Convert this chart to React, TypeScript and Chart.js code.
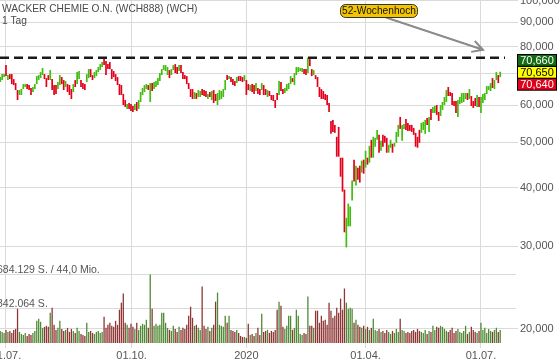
import React, { useEffect, useRef } from 'react';
import { Chart, registerables } from 'chart.js';

Chart.register(...registerables);

// ---- data (EUR prices, daily bars 26.06.2019 - 13.07.2020) ----
const high: number[] = [
  68.84, 69.86, 69.86, 73.01, 69.52, 69.86, 69.86, 68.17, 66.85, 64.60,
  64.60, 64.92, 66.52, 66.52, 66.52, 66.20, 65.24, 65.56, 66.52, 69.18,
  69.52, 70.55, 71.95, 69.86, 68.51, 69.52, 71.25, 68.17, 66.20, 66.20,
  67.18, 69.52, 68.84, 67.84, 67.51, 66.52, 66.20, 64.92, 66.52, 67.84,
  70.55, 70.90, 67.84, 66.85, 66.52, 69.86, 71.60, 71.60, 69.52, 70.55,
  71.25, 72.30, 73.37, 74.10, 75.20, 74.46, 73.37, 74.10, 71.60, 70.90,
  69.86, 68.84, 66.52, 66.20, 63.35, 61.52, 60.33, 60.62, 60.33, 59.74,
  60.33, 60.92, 61.52, 63.97, 65.24, 66.20, 66.52, 66.20, 66.85, 66.85,
  67.18, 67.51, 68.51, 70.21, 71.60, 73.01, 73.01,
  72.30, 71.25, 71.60, 73.01, 73.37, 72.30, 73.01, 73.01, 70.55, 69.52,
  69.18, 66.85, 64.92, 64.92, 63.97, 63.66, 64.60, 64.29, 64.92, 64.60,
  64.29, 63.35, 63.97, 64.29, 64.60, 63.35, 63.66, 64.60, 64.29, 64.92,
  67.84, 69.52, 69.18, 68.84, 68.17, 67.51, 68.84, 69.18, 69.18, 68.84,
  69.52, 67.84, 66.52, 66.20, 66.52, 66.20, 66.85, 65.24, 64.92, 66.85,
  66.20, 64.92, 64.60, 64.29, 63.04, 63.04, 61.52, 63.66, 67.51, 67.18,
  64.92, 65.24, 66.52, 66.85, 69.18, 68.51, 70.21, 72.30, 72.30, 71.95,
  71.95, 71.60, 71.60, 75.70, 75.20, 71.60, 71.25, 69.52, 68.84, 65.56,
  64.92, 64.29, 63.35, 63.04, 60.62,
  55.52, 55.79, 54.44, 51.35, 53.91, 46.35, 46.35, 39.63, 34.51, 37.01,
  36.48, 41.42, 45.90, 44.58, 44.14, 44.58, 45.68, 45.90, 47.96, 46.35,
  49.15, 50.60, 51.35, 51.10, 53.13, 51.85, 50.36, 51.85, 51.60, 51.10,
  49.39, 50.60, 49.63, 49.87, 52.61, 54.44, 56.61, 54.44, 54.71, 56.06,
  54.98, 54.44, 54.44, 53.65, 52.36, 51.35,
  53.13, 54.98, 55.25, 55.79, 56.33, 56.61, 58.87, 59.45, 59.74, 60.03,
  58.01, 60.03, 60.92, 62.43, 64.60, 65.56, 63.97, 63.66, 61.22, 61.22,
  61.52, 62.43, 63.66, 63.66, 63.66, 63.66, 64.92, 62.73, 61.22, 62.12,
  63.04, 62.43, 62.43, 63.35, 63.66, 65.88, 65.88, 66.85, 68.51, 67.84,
  70.55, 69.52, 70.66,
];

const low: number[] = [
  67.18, 67.84, 68.84, 69.18, 67.84, 68.17, 66.52, 66.20, 64.60, 61.52,
  63.04, 63.04, 64.92, 65.56, 64.92, 64.60, 63.04, 63.97, 64.92, 66.52,
  67.84, 68.51, 69.52, 68.17, 65.56, 67.84, 67.84, 64.60, 63.04, 63.35,
  64.92, 66.20, 66.52, 64.60, 65.56, 63.97, 63.04, 61.82, 63.97, 65.56,
  66.52, 68.17, 65.56, 64.92, 64.60, 67.18, 68.51, 68.84, 67.84, 68.51,
  69.18, 70.55, 71.25, 72.30, 73.01, 69.52, 71.60, 71.60, 68.17, 68.84,
  67.51, 66.20, 63.04, 63.04, 60.03, 59.45, 58.87, 58.87, 58.30, 58.01,
  58.58, 58.30, 58.87, 60.92, 63.04, 63.97, 64.92, 64.60, 60.92, 64.29,
  64.92, 65.56, 66.20, 67.51, 69.52, 71.25, 70.90,
  69.52, 68.51, 69.52, 71.25, 70.21, 69.86, 70.90, 70.21, 68.17, 68.17,
  66.52, 64.92, 62.43, 61.82, 61.82, 61.82, 62.43, 62.43, 63.04, 62.73,
  62.43, 61.82, 62.43, 61.52, 60.62, 61.22, 60.03, 61.52, 61.82, 62.43,
  64.60, 67.84, 68.17, 67.18, 66.20, 65.88, 66.85, 67.51, 67.51, 67.18,
  67.51, 63.04, 64.60, 64.29, 63.97, 63.35, 64.29, 63.35, 63.04, 64.60,
  63.04, 63.04, 62.43, 62.73, 61.52, 61.22, 59.16, 61.52, 63.04, 64.29,
  63.35, 63.66, 64.29, 64.92, 66.52, 67.18, 66.20, 69.52, 70.55, 70.90,
  70.55, 69.86, 69.52, 70.21, 72.66, 69.18, 69.52, 68.17, 65.56, 62.43,
  61.82, 61.82, 61.52, 60.03, 58.01,
  52.10, 52.61, 52.36, 46.58, 46.58, 42.23, 39.24, 32.14, 29.85, 33.10,
  33.10, 37.56, 41.22, 40.42, 41.62, 41.02, 43.07, 42.86, 44.14, 44.80,
  45.23, 46.35, 46.35, 48.91, 50.60, 47.50, 47.96, 48.91, 49.87, 47.50,
  47.50, 48.67, 47.50, 48.91, 49.87, 51.35, 53.39, 50.36, 53.39, 53.13,
  52.87, 52.87, 52.61, 51.85, 48.91, 48.67,
  49.87, 52.36, 53.13, 52.10, 54.44, 52.61, 55.79, 57.73, 57.73, 57.17,
  55.52, 56.89, 58.58, 60.03, 60.92, 62.73, 62.73, 60.03, 59.74, 57.73,
  56.61, 60.33, 60.62, 60.92, 61.82, 61.52, 61.82, 59.74, 59.16, 59.74,
  59.45, 59.45, 57.73, 60.62, 61.52, 63.35, 64.60, 64.29, 65.24, 64.92,
  67.84, 66.85, 68.84,
];

// u = rising bar (green), d = falling bar (red)
const direction: string =
  'uuududdddd' + 'uuuuddduuu' + 'uuuddduddd' + 'uuddudddud' + 'uuddduuddu' +
  'uuuudddddd' + 'dddddduddd' + 'uduuuuudud' + 'uuuuuuu' +
  'uduudduddd' + 'dddduduudd' + 'dududduuuu' + 'ududdduddd' + 'uddudduddu' +
  'ddudddddud' + 'duuuuduuuu' + 'uddudduddd' + 'ddddd' +
  'dddddddduu' + 'uududdudud' + 'uduuududdd' + 'uuduuuduud' + 'dddddd' +
  'duuududuud' + 'duuuuddddd' + 'uuuuududdd' + 'uduuuuuudu' + 'udu';

// volume in thousands of shares
const volumeK: number[] = [
  120, 110, 100, 130, 110, 120, 100, 130, 140, 340,
  110, 90, 80, 100, 70, 90, 80, 100, 120, 220,
  240, 210, 150, 160, 170, 160, 300, 350, 180, 130,
  150, 220, 140, 120, 130, 150, 110, 140, 120, 100,
  150, 120, 90, 80, 70, 200, 110, 120, 100, 90,
  110, 120, 100, 110, 260, 150, 180, 200, 170, 160,
  220, 180, 330, 400, 490, 200, 180, 150, 190, 160,
  140, 200, 130, 170, 190, 180, 230, 150, 680, 340,
  170, 190, 170, 180, 300, 300, 200,
  150, 130, 120, 170, 140, 110, 160, 130, 150, 140,
  180, 270, 360, 250, 170, 180, 150, 130, 560, 170,
  140, 160, 120, 150, 180, 410, 500, 180, 170, 160,
  270, 200, 270, 130, 120, 110, 130, 100, 70, 60,
  60, 50, 190, 80, 90, 70, 100, 150, 80, 290,
  110, 120, 130, 100, 120, 110, 130, 330, 410, 370,
  160, 140, 170, 270, 270, 130, 150, 330, 270, 90,
  80, 100, 90, 460, 170, 170, 150, 320, 320, 200,
  270, 220, 230, 180, 400,
  320, 250, 270, 350, 300, 440, 330, 540, 400, 340,
  350, 340, 200, 230, 180, 160, 150, 170, 140, 160,
  130, 150, 240, 130, 120, 140, 110, 120, 100, 130,
  110, 90, 120, 100, 140, 110, 240, 130, 120, 100,
  110, 100, 120, 130, 110, 140,
  120, 110, 100, 130, 90, 120, 110, 170, 130, 160,
  150, 170, 160, 140, 120, 110, 130, 150, 100, 120,
  140, 110, 100, 120, 170, 90, 110, 160, 130, 110,
  100, 120, 200, 130, 150, 100, 140, 120, 110, 130,
  150, 110, 130,
];

const xTickPos: number[] = [3, 68.3, 128, 190, 250];
const xTickLabels: string[] = ['01.07.', '01.10.', '2020', '01.04.', '01.07.'];
const yTicks: number[] = [20, 30, 40, 50, 60, 70, 80, 90, 100];
const volTicks: number[] = [342064, 684129];
const volTickLabels: string[] = ['342.064 S.', '684.129 S. / 44,0 Mio.'];
const high52 = 75.7;
const lastQuotes: number[] = [70.66, 70.65, 70.64];
const title = 'WACKER CHEMIE O.N. (WCH888) (WCH)';
const period = '1 Tag';
const annotationText = '52-Wochenhoch';

const fmt = (v: number) => v.toFixed(3).replace('.', ',');

export default function App() {
  const ref = useRef<HTMLCanvasElement>(null);

  useEffect(() => {
    const canvas = ref.current;
    if (!canvas) return;
    const FONT = '"Liberation Sans", Arial, sans-serif';
    const grid = '#dadada';
    const upColor = '#42bd0e';
    const downColor = '#e2001a';
    const volUp = '#4f8a35';
    const volDown = '#8e3535';

    const priceData = high.map((h, i) => ({ x: i, y: [low[i], h] }));
    const volData = volumeK.map((v, i) => ({ x: i, y: v * 1000 }));
    const priceColors = high.map((_, i) => (direction[i] === 'u' ? upColor : downColor));
    const volColors = high.map((_, i) => (direction[i] === 'u' ? volUp : volDown));

    const overlay = {
      id: 'overlay',
      beforeDatasetsDraw(chart: any) {
        const { ctx, chartArea } = chart;
        const yv = chart.scales.yv;
        ctx.save();
        ctx.strokeStyle = grid;
        ctx.lineWidth = 1;
        ctx.font = '10.5px ' + FONT;
        ctx.fillStyle = '#555';
        ctx.textBaseline = 'alphabetic';
        ctx.textAlign = 'left';
        volTicks.forEach((v, i) => {
          const y = Math.round(yv.getPixelForValue(v)) + 0.5;
          ctx.beginPath();
          ctx.moveTo(chartArea.left, y);
          ctx.lineTo(chartArea.right + 11, y);
          ctx.stroke();
          ctx.fillText(volTickLabels[i], chartArea.left - 3, y - 2);
        });
        ctx.font = '10.2px ' + FONT;
        ctx.fillStyle = '#4a4a4a';
        ctx.fillText(title, 2, 12);
        ctx.fillText(period, 2, 24);
        ctx.restore();
      },
      afterDatasetsDraw(chart: any) {
        const { ctx, chartArea } = chart;
        const ys = chart.scales.y;
        const yDash = ys.getPixelForValue(high52);
        ctx.save();
        // 52-week-high dashed line
        ctx.strokeStyle = '#1a1a1a';
        ctx.lineWidth = 2.5;
        ctx.setLineDash([9, 5]);
        ctx.beginPath();
        ctx.moveTo(chartArea.left, yDash);
        ctx.lineTo(chartArea.right, yDash);
        ctx.stroke();
        ctx.setLineDash([]);

        // annotation arrow
        const x0 = 386, y0 = 17.5;
        const x1 = chartArea.right - 22, y1 = yDash - 8;
        ctx.strokeStyle = '#8a8a8a';
        ctx.lineWidth = 2;
        ctx.beginPath();
        ctx.moveTo(x0, y0);
        ctx.lineTo(x1, y1);
        const ang = Math.atan2(y1 - y0, x1 - x0);
        const L = 12;
        ctx.moveTo(x1 - L * Math.cos(ang - 0.5), y1 - L * Math.sin(ang - 0.5));
        ctx.lineTo(x1, y1);
        ctx.lineTo(x1 - L * Math.cos(ang + 0.5), y1 - L * Math.sin(ang + 0.5));
        ctx.stroke();

        // annotation box
        const bx = 340.5, by = 4.5, bw = 77, bh = 13, r = 5;
        ctx.beginPath();
        ctx.moveTo(bx + r, by);
        ctx.arcTo(bx + bw, by, bx + bw, by + bh, r);
        ctx.arcTo(bx + bw, by + bh, bx, by + bh, r);
        ctx.arcTo(bx, by + bh, bx, by, r);
        ctx.arcTo(bx, by, bx + bw, by, r);
        ctx.closePath();
        ctx.fillStyle = '#f5c400';
        ctx.fill();
        ctx.strokeStyle = '#333';
        ctx.lineWidth = 1;
        ctx.stroke();
        ctx.fillStyle = '#111';
        ctx.font = '10.2px ' + FONT;
        ctx.textAlign = 'center';
        ctx.textBaseline = 'middle';
        ctx.fillText(annotationText, bx + bw / 2, by + bh / 2 + 0.5);
        ctx.restore();
      },
      afterDraw(chart: any) {
        const { ctx, chartArea } = chart;
        const ys = chart.scales.y;
        const yMid = ys.getPixelForValue(lastQuotes[1]);
        const h = 11.7;
        const bx = chartArea.right + 12.5;
        const bw = 39;
        const fills = ['#136b13', '#ffff00', '#e2001a'];
        const texts = ['#fff', '#000', '#fff'];
        ctx.save();
        ctx.font = '11px ' + FONT;
        ctx.textAlign = 'center';
        ctx.textBaseline = 'middle';
        lastQuotes.forEach((q, i) => {
          const top = Math.round(yMid - h / 2 + (i - 1) * h) + 0.5;
          ctx.fillStyle = fills[i];
          ctx.fillRect(bx, top, bw, h);
          ctx.strokeStyle = '#000';
          ctx.lineWidth = 1;
          ctx.strokeRect(bx, top, bw, h);
          ctx.fillStyle = texts[i];
          ctx.fillText(fmt(q), bx + bw / 2, top + h / 2 + 0.5);
        });
        ctx.restore();
      },
    };

    const font = { family: FONT, size: 11 };

    const chart = new Chart(canvas, {
      type: 'bar',
      data: {
        datasets: [
          {
            data: priceData as any,
            yAxisID: 'y',
            backgroundColor: priceColors,
            barThickness: 1.7,
            grouped: false,
            borderWidth: 0,
            inflateAmount: 0,
            order: 1,
          } as any,
          {
            data: volData as any,
            yAxisID: 'yv',
            backgroundColor: volColors,
            barThickness: 1.3,
            grouped: false,
            borderWidth: 0,
            inflateAmount: 0,
            order: 2,
          } as any,
        ],
      },
      options: {
        responsive: false,
        animation: false,
        devicePixelRatio: 1,
        layout: { padding: 0, autoPadding: false },
        plugins: { legend: { display: false }, tooltip: { enabled: false }, title: { display: false } },
        scales: {
          x: {
            type: 'linear',
            min: -0.12,
            max: 262.5,
            bounds: 'data',
            offset: false,
            grid: { color: grid, tickLength: 5, offset: false },
            border: { display: false },
            ticks: {
              font,
              color: '#555',
              padding: 1,
              autoSkip: false,
              maxRotation: 0,
              minRotation: 0,
              callback: (_v: any, i: number) => xTickLabels[i] ?? '',
            },
            afterBuildTicks: (s: any) => {
              s.ticks = xTickPos.map((v) => ({ value: v }));
            },
            afterFit: (s: any) => {
              s.height = 19;
              s.paddingLeft = 0;
              s.paddingRight = 0;
            },
          } as any,
          y: {
            type: 'logarithmic',
            position: 'right',
            min: 18.67,
            max: 100.49,
            bounds: 'data',
            grid: { color: grid, tickLength: 13 },
            border: { display: false },
            ticks: {
              font,
              color: '#555',
              padding: 2,
              autoSkip: false,
              callback: (v: any) => fmt(Number(v)),
            },
            afterBuildTicks: (s: any) => {
              s.ticks = yTicks.map((v) => ({ value: v }));
            },
            afterFit: (s: any) => {
              s.width = 55;
              s.paddingTop = 0;
              s.paddingBottom = 0;
            },
          } as any,
          yv: {
            type: 'linear',
            display: false,
            min: 0,
            max: 3400000,
            position: 'right',
          } as any,
        },
      },
      plugins: [overlay],
    });

    return () => chart.destroy();
  }, []);

  return (
    <div style={{ position: 'fixed', left: 0, top: 0, width: 560, height: 362, background: '#fff' }}>
      <canvas ref={ref} width={560} height={362} style={{ display: 'block', width: 560, height: 362 }} />
    </div>
  );
}
